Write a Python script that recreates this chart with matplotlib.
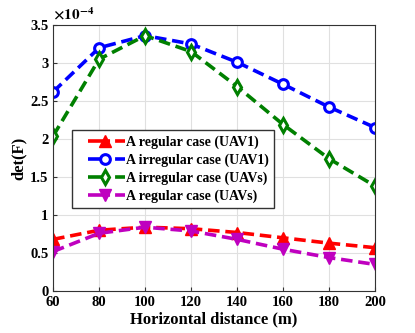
import numpy as np
import matplotlib.pyplot as plt
from matplotlib.ticker import FuncFormatter
from matplotlib.legend_handler import HandlerLine2D

plt.rcParams['font.family'] = ['Liberation Serif', 'DejaVu Serif']
plt.rcParams['font.weight'] = 'bold'
plt.rcParams['mathtext.fontset'] = 'stix'

# horizontal distance (m)
dist = [60, 80, 100, 120, 140, 160, 180, 200]
# det(F), in units of 1e-4
reg_uav1 = [0.68, 0.80, 0.84, 0.82, 0.77, 0.70, 0.63, 0.57]
irr_uav1 = [2.62, 3.20, 3.36, 3.25, 3.01, 2.72, 2.42, 2.15]
irr_uavs = [2.04, 3.05, 3.36, 3.15, 2.69, 2.19, 1.74, 1.38]
reg_uavs = [0.52, 0.76, 0.84, 0.79, 0.68, 0.55, 0.44, 0.35]
labels = ['A regular case (UAV1)', 'A irregular case (UAV1)',
          'A irregular case (UAVs)', 'A regular case (UAVs)']


# matlab-like legend entry: solid piece with marker, then one short dash
class LeftMarker(HandlerLine2D):
    def create_artists(self, legend, orig_handle, xdescent, ydescent, width, height,
                       fontsize, trans):
        arts = super().create_artists(legend, orig_handle, xdescent, ydescent, width,
                                      height, fontsize, trans)
        line = arts[0]
        y0 = line.get_ydata()[0]
        x0 = -xdescent
        line.set_data([x0 + width * 0.23, x0 + width * 0.58, x0 + width], [y0, y0, y0])
        line.set_markevery([1])
        line.set_linestyle((0, (6.1, 1.4, 2.8, 5)))
        return arts


fig = plt.figure(figsize=(4.15, 3.33), dpi=100)
ax = fig.add_axes([0.128, 0.126, 0.776, 0.799])

dash = (0, (3.2, 1.6))
ax.plot(dist, reg_uav1, color='red', ls=dash, lw=2.6, marker='^', ms=8, label=labels[0])
ax.plot(dist, irr_uav1, color='blue', ls=dash, lw=2.6, marker='o', ms=7,
        mfc='white', mew=2.2, label=labels[1])
ax.plot(dist, irr_uavs, color='green', ls=dash, lw=2.6, marker='d', ms=7,
        mfc='white', mew=2.2, label=labels[2])
ax.plot(dist, reg_uavs, color='m', ls=dash, lw=2.6, marker='v', ms=8, label=labels[3])

ax.set_xlim(60, 200)
ax.set_ylim(0, 3.5)
ax.set_xticks(np.arange(60, 201, 20))
ax.set_yticks(np.arange(0, 3.51, 0.5))
ax.yaxis.set_major_formatter(FuncFormatter(lambda v, p: '%g' % v))
ax.grid(True, color='#e0e0e0', lw=0.8)
ax.set_axisbelow(True)
ax.tick_params(labelsize=10.5, direction='in', length=3, color='#333333')
for s in ax.spines.values():
    s.set_color('#333333')
    s.set_linewidth(0.8)

ax.set_xlabel('Horizontal distance (m)', fontsize=12, fontweight='bold', labelpad=2)
ax.set_ylabel('det(F)', fontsize=12, fontweight='bold', labelpad=2)
ax.text(0.0, 1.01, r'$\times\mathbf{10}^{\mathbf{-4}}$', transform=ax.transAxes,
        fontsize=11, ha='left', va='bottom')

leg = ax.legend(loc='upper left', bbox_to_anchor=(0.059, 0.605), fontsize=10,
                handlelength=3.4, handletextpad=0.1, borderpad=0.38,
                labelspacing=0.33, fancybox=False, framealpha=1, borderaxespad=0,
                handler_map={plt.Line2D: LeftMarker()})
leg.get_frame().set_edgecolor('#333333')
leg.get_frame().set_linewidth(1.0)
for t in leg.get_texts():
    t.set_fontweight('bold')

fig.savefig('out.png', dpi=100)
